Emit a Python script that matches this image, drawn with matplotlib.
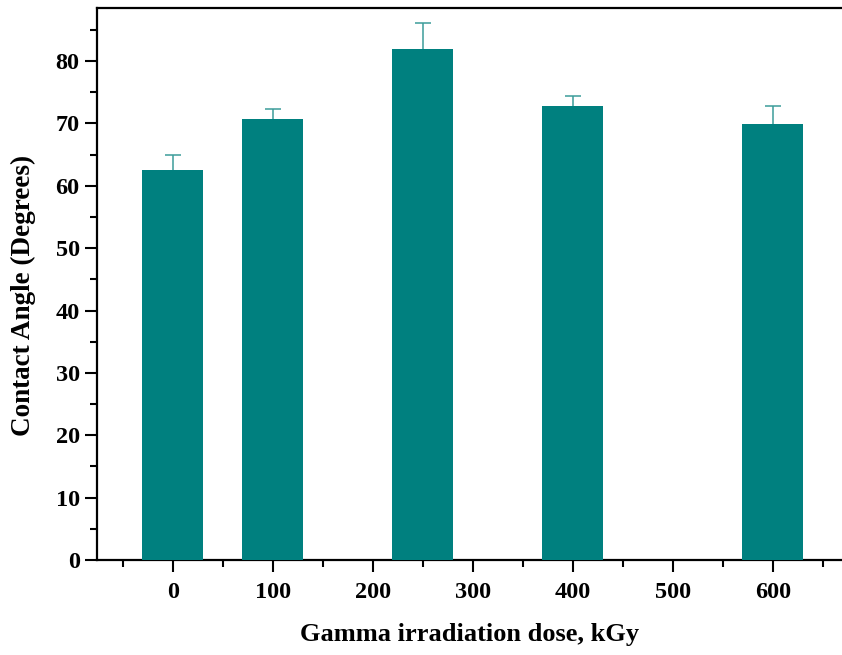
import numpy as np
import matplotlib
matplotlib.use("Agg")
import matplotlib.pyplot as plt
import matplotlib.ticker as ticker

# data
doses = [0, 100, 250, 400, 600]
angles = [62.5, 70.75, 82.0, 72.8, 69.85]
errors = [2.5, 1.55, 4.05, 1.6, 2.95]

bar_color = '#00807f'
err_color = '#3c9c9a'

plt.rcParams['font.family'] = ['Liberation Serif', 'DejaVu Serif']
plt.rcParams['font.weight'] = 'bold'

fig = plt.figure(figsize=(8.42, 6.55), dpi=100)
ax = fig.add_axes([0.1152, 0.145, 0.8848, 0.8427])

# symmetric error bars drawn below the bars, so only the upper half shows
ax.errorbar(doses, angles, yerr=errors, fmt='none',
            ecolor=err_color, elinewidth=1.1, capsize=6, capthick=1.1, zorder=2)
ax.bar(doses, angles, width=61, color=bar_color, zorder=3)

ax.set_xlim(-76, 669)
ax.set_ylim(0, 88.5)

ax.xaxis.set_major_locator(ticker.MultipleLocator(100))
ax.xaxis.set_minor_locator(ticker.MultipleLocator(50))
ax.yaxis.set_major_locator(ticker.MultipleLocator(10))
ax.yaxis.set_minor_locator(ticker.MultipleLocator(5))

ax.spines['right'].set_visible(False)
for s in ['left', 'bottom', 'top']:
    ax.spines[s].set_linewidth(1.6)

ax.tick_params(which='major', direction='out', length=8.5, width=1.5, labelsize=17.5)
ax.tick_params(which='minor', direction='out', length=5, width=1.5)
ax.tick_params(axis='x', which='major', pad=7)
ax.tick_params(axis='y', which='major', pad=4)
ax.tick_params(top=False, right=False, which='both')

ax.set_xlabel('Gamma irradiation dose, kGy', fontsize=19, fontweight='bold', labelpad=15)
ax.set_ylabel('Contact Angle (Degrees)', fontsize=19.5, fontweight='bold')
ax.yaxis.set_label_coords(-0.082, 0.48)

fig.savefig('out.png', dpi=100)
